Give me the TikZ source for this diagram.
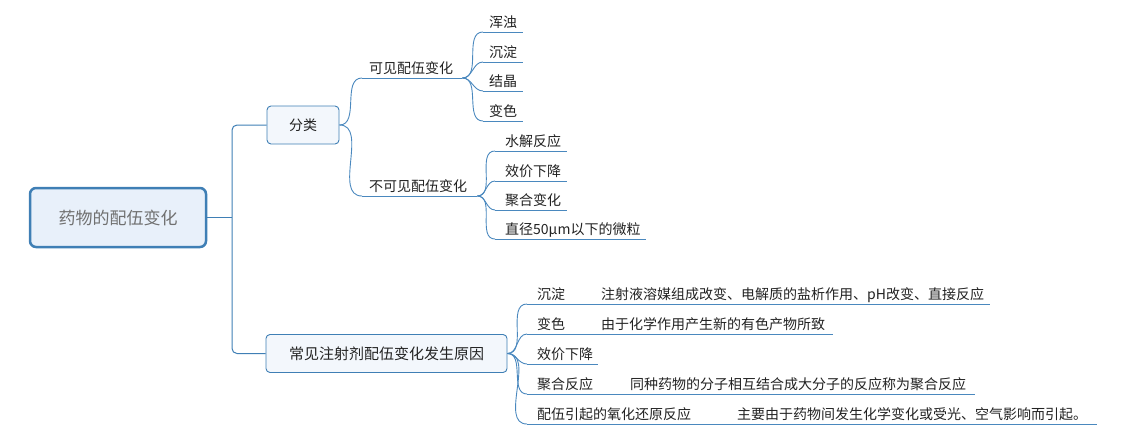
\documentclass[tikz,border=0pt]{standalone}
\usepackage{fontspec}
\setmainfont{Noto Sans CJK SC}
\definecolor{lineblue}{HTML}{4A88BE}
\definecolor{boxblue}{HTML}{3F7FB5}
\definecolor{rootfill}{HTML}{E8F0FA}
\definecolor{boxfill}{HTML}{F3F7FC}
\definecolor{txt}{HTML}{222222}
\definecolor{roottxt}{HTML}{707070}
\tikzset{
  rootbox/.style={draw=boxblue, fill=rootfill, line width=2.5pt, rounded corners=6pt,
    minimum width=176pt, minimum height=59pt, inner sep=0pt, font=\fontsize{17}{20}\selectfont, text=roottxt},
  mainbox/.style={draw=boxblue, fill=boxfill, line width=0.9pt, rounded corners=4pt,
    minimum height=38pt, inner sep=0pt, font=\fontsize{14}{16}\selectfont, text=txt},
  leaf/.style={anchor=south west, inner ysep=1pt, text height=11pt, text depth=3pt,
    align=left, font=\fontsize{14}{16}\selectfont, text=txt},
  ul/.style={draw=lineblue, line width=0.9pt},
  conn/.style={draw=lineblue, line width=0.9pt},
  trunk/.style={draw=boxblue, line width=1pt}
}
\newcommand\mleaf[6]{%
  \pgfmathsetmacro\lxs{#3-#2}%
  \pgfmathsetmacro\ltw{#4-#2-2*(#3-#2)}%
  \node[leaf, inner xsep=\lxs pt, text width=\ltw pt] (#1) at (#2,#5) {#6};
  \draw[ul] (#1.south west) -- (#1.south east);
}
\begin{document}
\begin{tikzpicture}[x=1pt,y=-1pt]
\useasboundingbox (0,0) rectangle (1126,436);
% main nodes
\node[rootbox] (root) at (118,217.5) {药物的配伍变化};
\node[mainbox, minimum width=72pt] (fl) at (303,125) {分类};
\node[mainbox, minimum width=241pt, font=\fontsize{15}{17}\selectfont] (cj) at (386.5,353.5) {常见注射剂配伍变化发生原因};
\coordinate (j) at (232,217.5);
\draw[trunk, rounded corners=5pt] (fl.west) -| (j) |- (cj.west);
\draw[trunk] (root.east) -- (j);
% level 2
\mleaf{kj}{362}{369}{462}{78}{可见配伍变化}
\mleaf{bkj}{362}{369}{477}{196}{不可见配伍变化}
\draw[conn] (fl.east) to[out=0,in=180] (kj.south west);
\draw[conn] (fl.east) to[out=0,in=180] (bkj.south west);
% visible
\mleaf{a1}{483}{489}{523}{32}{浑浊}
\mleaf{a2}{483}{489}{523}{62}{沉淀}
\mleaf{a3}{483}{489}{523}{91}{结晶}
\mleaf{a4}{483}{489}{523}{121}{变色}
\foreach \n in {a1,a2,a3,a4} \draw[conn] (kj.south east) to[out=0,in=180] (\n.south west);
% invisible
\mleaf{b1}{495}{505}{567}{151}{水解反应}
\mleaf{b2}{495}{505}{567}{181}{效价下降}
\mleaf{b3}{495}{505}{567}{210}{聚合变化}
\mleaf{b4}{495}{505}{646}{239}{直径50μm以下的微粒}
\foreach \n in {b1,b2,b3,b4} \draw[conn] (bkj.south east) to[out=0,in=180] (\n.south west);
% causes
\mleaf{c1}{527}{537}{990}{304}{\makebox[64pt][l]{沉淀}注射液溶媒组成改变、电解质的盐析作用、pH改变、直接反应}
\mleaf{c2}{527}{537}{833}{334}{\makebox[64pt][l]{变色}由于化学作用产生新的有色产物所致}
\mleaf{c3}{527}{537}{598}{364}{效价下降}
\mleaf{c4}{527}{537}{975}{394}{\makebox[93pt][l]{聚合反应}同种药物的分子相互结合成大分子的反应称为聚合反应}
\mleaf{c5}{527}{537}{1097}{424}{\makebox[200pt][l]{配伍引起的氧化还原反应}主要由于药物间发生化学变化或受光、空气影响而引起。}
\foreach \n in {c1,c2,c3,c4,c5} \draw[conn] (cj.east) to[out=0,in=180] (\n.south west);
\end{tikzpicture}
\end{document}
